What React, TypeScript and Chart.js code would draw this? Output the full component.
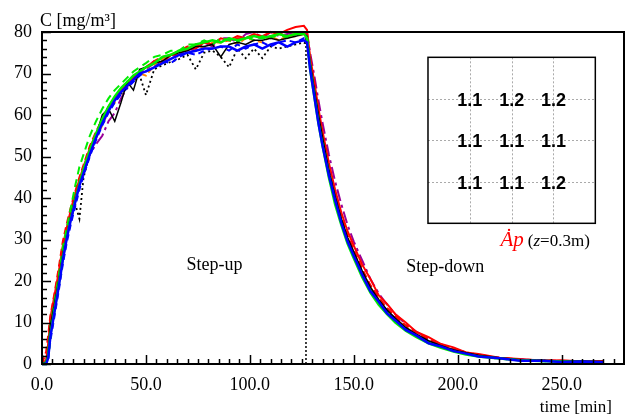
import { useEffect, useRef } from "react";
import { Chart, registerables } from "chart.js";

Chart.register(...registerables);

// ---- data ----
const TIME = [
  0, 2, 3, 4, 6, 8, 10, 12, 14, 16,
  18, 20, 23, 26, 29, 32, 35, 38, 41, 44,
  47, 50, 54, 58, 62, 66, 70, 74, 78, 82,
  86, 90, 94, 98, 102, 106, 110, 114, 118, 122,
  126, 127.5, 129, 131, 133, 135, 138, 141, 144, 147,
  150, 154, 158, 162, 166, 170, 175, 180, 186, 192,
  198, 204, 210, 220, 230, 240, 250, 260, 270,
];

const BLACK_SOLID = [
  0, 0.3, 3, 9, 14.5, 20, 26.5, 31.5, 36, 40,
  43.5, 46.5, 51, 55, 60, 61.5, 58.5, 63, 68, 66,
  71, 71.5, 72.5, 73, 74.5, 75, 75.5, 76.5, 76.5, 77,
  74, 77, 77.5, 77, 78, 78, 78.5, 78, 78.5, 79,
  79.5, 79, 72.5, 66, 60, 54.5, 46.5, 40.5, 35, 30.5,
  27, 22.5, 18.5, 15.5, 13, 11, 8.8, 7.2, 5.6, 4.4,
  3.4, 2.7, 2.1, 1.5, 1.0, 0.9, 0.7, 0.7, 0.6,
];

const BLACK_DOTTED = [
  0, 0.2, 2, 7, 13, 19, 25.5, 30.5, 35, 38.5,
  35, 45, 50.5, 54.5, 58, 61, 63.5, 65, 67, 68,
  69.5, 64.8, 71, 72, 72.8, 73.5, 74.5, 71, 75, 75.5,
  74, 71.5, 76, 73.7, 76, 73.7, 76.5, 76, 76.5, 77,
  77.5, 77, 71.5, 65.5, 59, 53.5, 46, 40, 34.5, 30,
  26.5, 22, 18.2, 15.2, 12.8, 10.8, 8.6, 7.0, 5.4, 4.3,
  3.3, 2.6, 2.0, 1.4, 1.0, 0.8, 0.7, 0.6, 0.5,
];

const RED_SOLID = [
  0, 1, 5, 11, 16.5, 22, 28.5, 33, 37.5, 41,
  44.5, 47.5, 52, 55.5, 59, 62, 64, 66, 67.5, 69,
  70.5, 71.5, 73, 72.5, 74.5, 74.5, 76, 76, 77.5, 77,
  78.5, 78, 79, 78.5, 79.5, 79, 80, 79.5, 80.5, 81.2,
  81.5, 80.5, 74, 68, 61.5, 56, 48.5, 42, 36.5, 32,
  28.5, 24, 20.5, 16.5, 14.5, 12, 10, 7.8, 6.5, 4.8,
  4.0, 2.8, 2.4, 1.5, 1.2, 0.8, 0.9, 0.6, 0.7,
];

const RED_DASHED = [
  0, 3, 7, 11.5, 17, 23, 29.5, 34, 38, 41.5,
  45, 48, 52.5, 56, 59, 62, 64, 66, 67.5, 69,
  70.5, 71.5, 73, 74, 74.5, 75.5, 76.5, 76.5, 77.5, 77.5,
  78, 78, 78.5, 78.5, 79, 78.5, 79, 79.5, 79, 79.5,
  80, 79.5, 73, 67, 60.5, 55, 47.5, 41, 35.5, 31,
  27.5, 23, 19, 16, 13.5, 11.5, 9.3, 7.6, 6, 4.7,
  3.6, 2.8, 2.2, 1.5, 1.1, 0.9, 0.7, 0.6, 0.5,
];

const GREEN_SOLID = [
  0, 0, 2, 7, 13, 19, 25.5, 31, 35.5, 39.5,
  43.5, 47, 51.5, 55.5, 59, 62, 64.5, 66.5, 68, 69.5,
  70.5, 71.5, 72.5, 74, 74.5, 75.5, 76, 77, 77.5, 78,
  77.5, 78.5, 78, 78.5, 79, 78.5, 79, 79.5, 79, 79.5,
  79.6, 78.5, 71, 64.5, 58, 52.5, 45, 38.5, 33.5, 29,
  25.5, 21, 17.2, 14.3, 12, 10, 8, 6.5, 5, 3.9,
  3, 2.3, 1.8, 1.3, 0.9, 0.7, 0.6, 0.5, 0.4,
];

const GREEN_DASHED = [
  0, 0.5, 3, 9, 15, 21, 28, 33, 38, 43,
  47.5, 50.5, 55, 58.5, 61.5, 64, 66, 67.5, 69, 70.5,
  71.5, 72.5, 74, 74.5, 75.5, 75.5, 77, 77, 78, 77,
  78.5, 78, 77.5, 79, 78, 79, 78.5, 79.5, 78.5, 79.5,
  79.5, 79, 72.5, 66, 59.5, 54, 46.5, 40, 34.5, 30,
  26.5, 22, 18, 15, 12.6, 10.6, 8.5, 6.9, 5.3, 4.2,
  3.2, 2.5, 1.9, 1.3, 0.9, 0.7, 0.6, 0.5, 0.4,
];

const BLUE_SOLID = [
  0, 0, 1.5, 6.5, 12.5, 18.5, 25, 30.5, 35, 39,
  43, 46, 50.5, 54.5, 58, 61, 63.5, 65.5, 67, 68.5,
  70, 70.5, 71.5, 72.5, 73.5, 74.5, 75, 75.5, 76, 76,
  76.5, 76.5, 75.5, 76.5, 77, 76, 77, 77.5, 76.5, 77.5,
  78, 77.5, 71, 64.5, 58, 52.5, 45.5, 39.5, 34, 29.5,
  26, 21.5, 17.5, 15, 12.2, 10.5, 8.2, 6.9, 5, 4.2,
  3.1, 2.5, 1.8, 1.4, 0.8, 0.8, 0.5, 0.6, 0.4,
];

const BLUE_DASHED = [
  0, 0, 1, 5.5, 11.5, 17.5, 24, 29.5, 34, 38,
  42, 45.5, 50, 54, 57.5, 60.5, 63, 65, 66.5, 68,
  69.5, 70.5, 71.5, 73, 72.5, 74, 75, 74.5, 75.5, 76,
  76.5, 75.5, 77, 76, 77, 77.5, 76.5, 77.5, 78, 77.5,
  78.5, 78, 72, 65.5, 59, 53.5, 46.5, 40, 34.5, 30,
  26.5, 22, 18.2, 15.2, 12.8, 10.8, 8.6, 7, 5.4, 4.3,
  3.3, 2.5, 1.9, 1.3, 1, 0.8, 0.6, 0.5, 0.4,
];

const PURPLE_DASHDOT = [
  0, 0.5, 3.5, 9, 14.5, 20, 26.5, 31.5, 36, 40,
  43.5, 46.5, 50.5, 53, 55, 58.5, 60.5, 64, 66.5, 68.5,
  70, 71, 72.5, 73, 74.5, 74, 76, 75.5, 77.5, 76.5,
  78.5, 78.5, 77.5, 79.5, 80, 78.5, 80, 79, 79.5, 80,
  80, 79.5, 75, 69.5, 63.5, 58, 50.5, 44, 38.5, 33.5,
  29.5, 25, 20.5, 17, 14.3, 12, 9.6, 7.8, 6, 4.7,
  3.6, 2.8, 2.1, 1.5, 1.1, 0.9, 0.7, 0.6, 0.5,
];

const ORANGE_DASHED = [
  0, 0.5, 3.5, 9.5, 15, 20.5, 27, 32, 36.5, 40,
  43.5, 46.5, 51, 54.5, 57.5, 61, 63, 65.5, 67, 68.5,
  70, 69.5, 72, 73.5, 74.5, 75.5, 75.5, 77, 76, 77.5,
  77.5, 78, 77, 78.5, 78, 77.5, 79, 78, 79, 79,
  79.5, 79, 72.5, 66.5, 60, 54.5, 47, 40.5, 35, 30.5,
  27, 22.5, 18.5, 15.5, 13, 11, 8.8, 7.2, 5.6, 4.4,
  3.4, 2.6, 2, 1.4, 1, 0.8, 0.6, 0.5, 0.5,
];

const STEP_TIME = 127;
const X_MIN = 0;
const X_MAX = 280;
const Y_MIN = 0;
const Y_MAX = 80;
const X_MAJOR = 50;
const X_MINOR = 5;
const Y_MAJOR = 10;
const Y_MINOR = 2;

const GRID_VALUES = [
  ["1.1", "1.2", "1.2"],
  ["1.1", "1.1", "1.1"],
  ["1.1", "1.1", "1.2"],
];
// inset box in data units (time, concentration)
const INSET_BOX = { t0: 185.7, t1: 266.2, c0: 33.9, c1: 73.9 };
const STEP_UP_LABEL = { text: "Step-up", t: 83, c: 23.9 };
const STEP_DOWN_LABEL = { text: "Step-down", t: 194, c: 23.4 };
const INSET_CAPTION = { sym: "Ȧp", rest: ["(", "z", "=0.3m)"], t: 226.2, c: 29.8 };
const Y_TITLE = "C [mg/m³]";
const X_TITLE = "time [min]";

const SERIF = "'Liberation Serif', 'Times New Roman', serif";
const SANS = "'Liberation Sans', Arial, sans-serif";

const pts = (vals: number[]) => TIME.map((t, i) => ({ x: t, y: vals[i] }));

const decorPlugin = {
  id: "decor",
  afterDraw(chart: any) {
    const ctx: CanvasRenderingContext2D = chart.ctx;
    const { left, right, top, bottom } = chart.chartArea;
    const xs = chart.scales.x;
    const ys = chart.scales.y;
    ctx.save();
    ctx.strokeStyle = "#000";
    ctx.lineWidth = 1.5;
    ctx.setLineDash([]);
    // inward ticks
    for (let v = X_MIN; v < X_MAX; v += X_MINOR) {
      const px = Math.round(xs.getPixelForValue(v)) + 0.5;
      const len = v % X_MAJOR === 0 ? 9 : 5;
      ctx.beginPath();
      ctx.moveTo(px, bottom);
      ctx.lineTo(px, bottom - len);
      ctx.stroke();
    }
    for (let v = Y_MIN; v <= Y_MAX; v += Y_MINOR) {
      const py = Math.round(ys.getPixelForValue(v)) + 0.5;
      const len = v % Y_MAJOR === 0 ? 9 : 5;
      ctx.beginPath();
      ctx.moveTo(left, py);
      ctx.lineTo(left + len, py);
      ctx.stroke();
    }
    // frame
    ctx.lineWidth = 2;
    ctx.strokeRect(left, top, right - left, bottom - top);

    // inset box
    const bx0 = xs.getPixelForValue(INSET_BOX.t0);
    const bx1 = xs.getPixelForValue(INSET_BOX.t1);
    const by0 = ys.getPixelForValue(INSET_BOX.c1);
    const by1 = ys.getPixelForValue(INSET_BOX.c0);
    const bw = bx1 - bx0;
    const bh = by1 - by0;
    ctx.fillStyle = "#fff";
    ctx.fillRect(bx0, by0, bw, bh);
    ctx.strokeStyle = "#aaa";
    ctx.lineWidth = 1;
    ctx.setLineDash([2, 2]);
    for (let k = 1; k <= 3; k++) {
      const gx = Math.round(bx0 + (bw * k) / 4) + 0.5;
      const gy = Math.round(by0 + (bh * k) / 4) + 0.5;
      ctx.beginPath();
      ctx.moveTo(gx, by0);
      ctx.lineTo(gx, by1);
      ctx.stroke();
      ctx.beginPath();
      ctx.moveTo(bx0, gy);
      ctx.lineTo(bx1, gy);
      ctx.stroke();
    }
    ctx.setLineDash([]);
    ctx.strokeStyle = "#000";
    ctx.lineWidth = 1.5;
    ctx.strokeRect(bx0, by0, bw, bh);
    ctx.fillStyle = "#000";
    ctx.font = `bold 18px ${SANS}`;
    ctx.textAlign = "center";
    ctx.textBaseline = "middle";
    GRID_VALUES.forEach((row, r) => {
      row.forEach((txt, c) => {
        const gx = bx0 + (bw * (c + 1)) / 4;
        const gy = by0 + (bh * (r + 1)) / 4;
        ctx.fillText(txt, gx, gy + 2);
      });
    });

    // caption under inset
    const cx = xs.getPixelForValue(INSET_CAPTION.t);
    const cy = ys.getPixelForValue(INSET_CAPTION.c);
    ctx.textBaseline = "alphabetic";
    ctx.textAlign = "left";
    ctx.font = `italic 21px ${SERIF}`;
    const symW = ctx.measureText(INSET_CAPTION.sym).width;
    ctx.fillStyle = "#ff0000";
    ctx.fillText(INSET_CAPTION.sym, cx - symW / 2, cy + 6);
    let x = cx + symW / 2 + 4;
    ctx.fillStyle = "#000";
    INSET_CAPTION.rest.forEach((part, i) => {
      ctx.font = i === 1 ? `italic 17px ${SERIF}` : `17px ${SERIF}`;
      ctx.fillText(part, x, cy + 6);
      x += ctx.measureText(part).width;
    });

    // step labels
    ctx.font = `18px ${SERIF}`;
    ctx.textAlign = "center";
    ctx.textBaseline = "middle";
    [STEP_UP_LABEL, STEP_DOWN_LABEL].forEach((l) => {
      ctx.fillText(l.text, xs.getPixelForValue(l.t), ys.getPixelForValue(l.c));
    });

    // axis titles
    ctx.textAlign = "left";
    ctx.textBaseline = "alphabetic";
    ctx.font = `18px ${SERIF}`;
    ctx.fillText(Y_TITLE, left - 2, top - 6);
    ctx.textAlign = "right";
    ctx.font = `17px ${SERIF}`;
    ctx.fillText(X_TITLE, right - 12, chart.height - 7);
    ctx.restore();
  },
};

type Spec = { data: number[]; color: string; width: number; dash: number[] };
const SERIES: Spec[] = [
  { data: BLUE_SOLID, color: "#0000ff", width: 2.5, dash: [] },
  { data: GREEN_SOLID, color: "#00ee00", width: 2.5, dash: [] },
  { data: BLACK_SOLID, color: "#000000", width: 1.5, dash: [] },
  { data: BLUE_DASHED, color: "#0000ff", width: 2, dash: [6, 4] },
  { data: GREEN_DASHED, color: "#00ee00", width: 2, dash: [8, 5] },
  { data: RED_SOLID, color: "#ff0000", width: 2, dash: [] },
  { data: RED_DASHED, color: "#ff0000", width: 2, dash: [7, 4] },
  { data: ORANGE_DASHED, color: "#ff8000", width: 2, dash: [6, 3] },
  { data: PURPLE_DASHDOT, color: "#990099", width: 2, dash: [12, 4, 3, 4] },
  { data: BLACK_DOTTED, color: "#000000", width: 1.8, dash: [2, 3] },
];

export default function App() {
  const ref = useRef<HTMLCanvasElement | null>(null);
  useEffect(() => {
    if (!ref.current) return;
    const datasets: any[] = SERIES.map((s) => ({
      data: pts(s.data),
      borderColor: s.color,
      borderWidth: s.width,
      borderDash: s.dash,
      pointRadius: 0,
      tension: 0,
      fill: false,
      clip: false,
    }));
    datasets.push({
      data: [
        { x: STEP_TIME, y: Y_MIN },
        { x: STEP_TIME, y: Y_MAX },
      ],
      borderColor: "#000",
      borderWidth: 1.5,
      borderDash: [2, 2],
      pointRadius: 0,
      fill: false,
    });
    const chart = new Chart(ref.current, {
      type: "line",
      data: { datasets },
      options: {
        animation: false,
        responsive: false,
        devicePixelRatio: 1,
        layout: { padding: { top: 32, right: 7, left: 0, bottom: 0 } },
        plugins: { legend: { display: false }, tooltip: { enabled: false } },
        scales: {
          x: {
            type: "linear",
            min: X_MIN,
            max: X_MAX,
            grid: { display: false, drawTicks: false },
            border: { display: false },
            afterBuildTicks: (axis: any) => {
              axis.ticks = axis.ticks.filter((t: any) => t.value % X_MAJOR === 0);
            },
            afterFit: (axis: any) => {
              axis.height = 55;
            },
            ticks: {
              stepSize: X_MAJOR,
              padding: 10,
              maxRotation: 0,
              autoSkip: false,
              color: "#000",
              font: { family: SERIF, size: 18 },
              callback: (v: any) => Number(v).toFixed(1),
            },
          },
          y: {
            type: "linear",
            min: Y_MIN,
            max: Y_MAX,
            grid: { display: false, drawTicks: false },
            border: { display: false },
            afterFit: (axis: any) => {
              axis.width = 42;
            },
            ticks: {
              stepSize: Y_MAJOR,
              padding: 10,
              color: "#000",
              font: { family: SERIF, size: 18 },
            },
          },
        },
      },
      plugins: [decorPlugin],
    });
    return () => chart.destroy();
  }, []);
  return (
    <div style={{ position: "absolute", left: 0, top: 0, width: 631, height: 419, background: "#fff" }}>
      <canvas ref={ref} width={631} height={419} />
    </div>
  );
}
